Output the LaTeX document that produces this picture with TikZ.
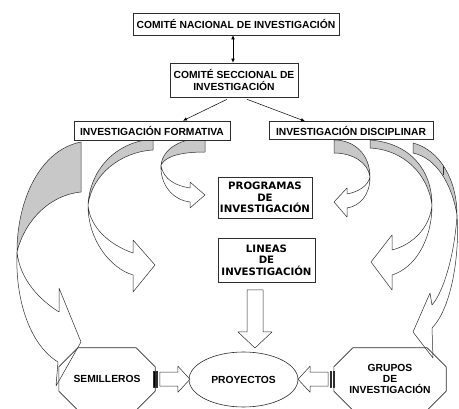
\documentclass[tikz,border=0pt]{standalone}
\usepackage{fontspec}
\setmainfont{Liberation Sans}
\newfontfamily\widefont{DejaVu Sans}
\usetikzlibrary{calc,positioning,shapes.geometric,arrows.meta}

\definecolor{bandgray}{RGB}{200,200,200}
\definecolor{edge}{RGB}{45,45,45}

\begin{document}
\begin{tikzpicture}[x=1pt,y=-1pt]
        \tikzstyle{box}=[draw=edge, fill=white, line width=0.6pt, align=center, inner sep=1pt, font=\fontsize{10.3}{12}\selectfont\bfseries]
        \tikzstyle{widebox}=[box, font=\widefont\fontsize{10.2}{11.4}\selectfont\bfseries]
        \tikzstyle{plain}=[align=center, inner sep=1pt, font=\fontsize{10.3}{11}\selectfont\bfseries]
        \tikzstyle{band}=[draw=edge, fill=white, line width=0.5pt, line join=round]
        \tikzstyle{back}=[draw=edge, fill=bandgray, line width=0.5pt, line join=round]
        \tikzstyle{link}=[draw=black, line width=0.5pt, -{Latex[length=4pt,width=3.5pt]}]
        \tikzstyle{outline}=[draw=edge, line width=0.6pt, line join=round]

        \useasboundingbox (0,0) rectangle (459,409);

        % Curved arrows, left side
        \draw[band] (17,252) .. controls (15,300) and (30,345) .. (58,362) -- (56,386) -- (81,342) -- (59,288) -- (59,312) .. controls (40,300) and (20,280) .. (17,252);
        \draw[back] (81,142) .. controls (40,150) and (17,200) .. (17,252) .. controls (25,220) and (50,195) .. (81,192) -- cycle;

        \draw[band] (88,205) .. controls (88,240) and (110,268) .. (133,275) -- (133,292) -- (155,265) -- (133,240) -- (133,253) .. controls (110,245) and (90,228) .. (88,205);
        \draw[back] (153,139) .. controls (115,142) and (90,170) .. (88,205) .. controls (92,175) and (120,152) .. (153,150) -- cycle;

        \draw[band] (161,165) .. controls (160,185) and (173,200) .. (190,202) -- (190,208) -- (205,195) -- (190,182) -- (190,188) .. controls (177,186) and (163,180) .. (161,165);
        \draw[back] (205,138) .. controls (182,138) and (163,148) .. (161,165) .. controls (166,155) and (185,152) .. (205,152) -- cycle;

        % Curved arrows, right side
        \draw[band] (432,205) .. controls (432,240) and (415,268) .. (392,275) -- (392,290) -- (371,262) -- (392,235) -- (392,250) .. controls (412,245) and (430,228) .. (432,205);
        \draw[back] (370,140) .. controls (410,143) and (432,170) .. (432,205) .. controls (428,175) and (405,150) .. (370,148) -- cycle;

        \draw[band] (457,215) .. controls (460,260) and (450,310) .. (432,328) -- (433,358) -- (413,332) -- (430,293) -- (432,305) .. controls (445,290) and (455,250) .. (457,215);
        \draw[back] (413,143) .. controls (440,150) and (457,180) .. (457,215) .. controls (452,185) and (437,158) .. (413,153) -- cycle;

        \draw[band] (370,177) .. controls (370,195) and (360,206) .. (347,208) -- (347,217) -- (334,202) -- (347,188) -- (347,194) .. controls (358,192) and (368,186) .. (370,177);
        \draw[back] (334,140) .. controls (355,140) and (370,155) .. (370,177) .. controls (368,162) and (352,153) .. (334,153) -- cycle;

        \draw[line width=1.4pt, draw=edge] (443.5,166) -- (443.5,175);

        % Boxes
        \node[box, minimum width=206pt, minimum height=22pt] (nac) at (236,24) {COMITÉ NACIONAL DE INVESTIGACIÓN};
        \node[box, minimum width=128pt, minimum height=34pt] (secc) at (234,80) {COMITÉ SECCIONAL DE\\INVESTIGACIÓN};
        \node[box, minimum width=156pt, minimum height=19pt] (form) at (152,130.5) {INVESTIGACIÓN FORMATIVA};
        \node[box, minimum width=164pt, minimum height=18pt] (disc) at (351,130.5) {INVESTIGACIÓN DISCIPLINAR};
        \node[widebox, minimum width=94pt, minimum height=41pt] (prog) at (265,197.5) {PROGRAMAS\\DE\\INVESTIGACIÓN};
        \node[widebox, minimum width=97pt, minimum height=44pt] (lin) at (266.5,260) {LINEAS\\DE\\INVESTIGACIÓN};
        \node[box, ellipse, minimum width=109pt, minimum height=55pt] (proy) at (243.5,379.5) {PROYECTOS};
        \node[plain, minimum width=96pt, minimum height=62pt] (sem) at (107,379) {SEMILLEROS};
        \node[plain, minimum width=112pt, minimum height=62pt] (grup) at (390,379) {GRUPOS\\DE\\INVESTIGACIÓN};

        % Octagons
        \foreach \n in {sem,grup} {
            \draw[outline] ($(\n.north west)+(19,0)$) -- ($(\n.north east)+(-19,0)$) -- ($(\n.north east)+(0,19)$) -- ($(\n.south east)+(0,-19)$) -- ($(\n.south east)+(-19,0)$) -- ($(\n.south west)+(19,0)$) -- ($(\n.south west)+(0,-19)$) -- ($(\n.north west)+(0,19)$) -- cycle;
        }

        % Thin arrows
        \draw[link, {Latex[length=4pt,width=3.5pt]}-{Latex[length=4pt,width=3.5pt]}] ([xshift=-3pt]nac.south) -- ([xshift=-1pt]secc.north);
        \draw[link] ([xshift=-7pt,yshift=-2pt]secc.south) -- ([xshift=31pt]form.north);
        \draw[link] ([xshift=13pt,yshift=-2pt]secc.south) -- ([xshift=-46pt]disc.north);

        % Block arrow down
        \coordinate (d0) at ($(lin.south)!0.5!(proy.north)$);
        \begin{scope}[shift={(d0)}]
            \draw[band] (-8,-27) -- (8,-27) -- (8,15) -- (17,15) -- (0,31) -- (-17,15) -- (-8,15) -- cycle;
        \end{scope}

        % Striped block arrows
        \coordinate (s0) at ($(sem.east)!0.5!(proy.west)$);
        \coordinate (g0) at ($(grup.west)!0.5!(proy.east)$);
        \foreach \c/\s in {s0/1, g0/-1} {
            \begin{scope}[shift={(\c)}, xscale=\s]
                \draw[band, fill=black] (-18.5,-8) rectangle (-16.8,8);
                \draw[band, fill=black] (-15.6,-8) rectangle (-14.4,8);
                \draw[band] (-12,-7) -- (6,-7) -- (6,-13) -- (18,0) -- (6,13) -- (6,7) -- (-12,7) -- cycle;
            \end{scope}
        }
\end{tikzpicture}
\end{document}
